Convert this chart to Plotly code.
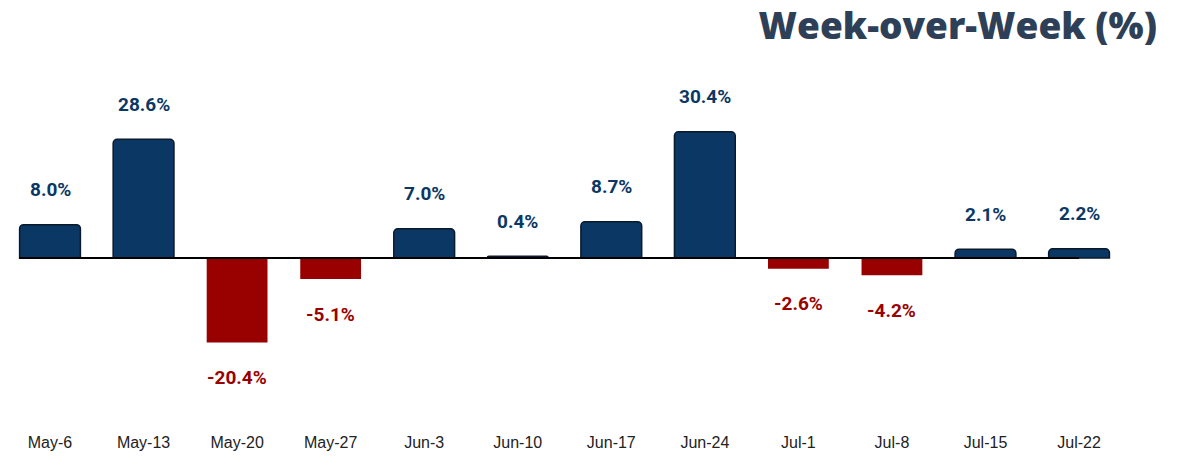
import plotly.graph_objects as go

categories = ["May-6", "May-13", "May-20", "May-27", "Jun-3", "Jun-10",
              "Jun-17", "Jun-24", "Jul-1", "Jul-8", "Jul-15", "Jul-22"]
values = [8.0, 28.6, -20.4, -5.1, 7.0, 0.4, 8.7, 30.4, -2.6, -4.2, 2.1, 2.2]
labels = [f"{v:.1f}%" for v in values]

BLUE = "#0B3764"
RED = "#990000"

pos_vals = [v if v >= 0 else None for v in values]
neg_vals = [v if v < 0 else None for v in values]

fig = go.Figure()
fig.add_trace(go.Bar(
    x=categories, y=pos_vals, width=0.65,
    marker=dict(color=BLUE, line=dict(color="#0a1a2a", width=1.5), cornerradius=4),
    hoverinfo="skip"))
fig.add_trace(go.Bar(
    x=categories, y=neg_vals, width=0.65,
    marker=dict(color=RED, line=dict(width=0)),
    hoverinfo="skip"))

for c, v, t in zip(categories, values, labels):
    fig.add_annotation(
        x=c, y=v, text=t, showarrow=False,
        yshift=35 if v >= 0 else -35,
        font=dict(family="Roboto", size=19, color=BLUE if v >= 0 else RED, weight="bold"))

# zero baseline
fig.add_shape(type="line", xref="x", yref="y", x0=-0.33, x1=11.0, y0=0, y1=0,
              line=dict(color="black", width=2), layer="above")

fig.update_layout(
    width=1176, height=448,
    margin=dict(l=0, r=58, t=52, b=28),
    barmode="overlay",
    showlegend=False,
    plot_bgcolor="white", paper_bgcolor="white",
    title=dict(text="Week-over-Week (%)", xref="container", yref="container",
               x=0.977, xanchor="right", y=0.96, yanchor="middle",
               font=dict(family="Open Sans", size=37, color="#2E4057", weight=800)),
    xaxis=dict(showgrid=False, zeroline=False, showline=False, ticks="",
               tickfont=dict(family="Liberation Sans", size=16, color="#222222"),
               ticklabelstandoff=3,
               range=[-0.449, 11.502]),
    yaxis=dict(visible=False, range=[-41.0, 47.7], showgrid=False, zeroline=False),
)

fig.write_html("out.html")
